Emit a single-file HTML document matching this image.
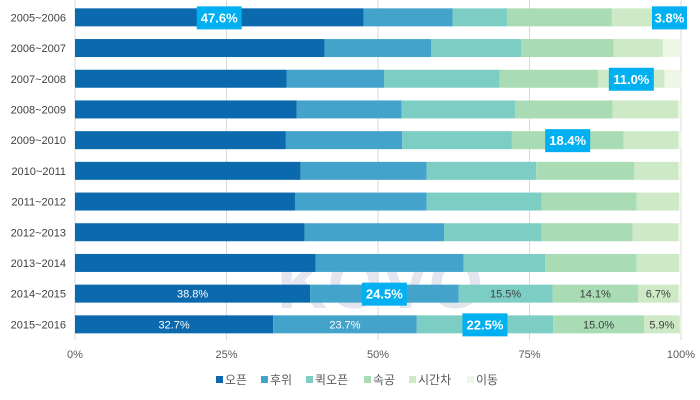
<!DOCTYPE html>
<html><head><meta charset="utf-8">
<style>
body{margin:0;background:#fff;}
#wrap{position:relative;width:700px;height:400px;overflow:hidden;font-family:"Liberation Sans","Noto Sans CJK KR",sans-serif;}
svg text{font-family:"Liberation Sans","Noto Sans CJK KR",sans-serif;}
</style></head>
<body>
<div id="wrap">
<svg id="chart" width="700" height="400" xmlns="http://www.w3.org/2000/svg">
<text x="380" y="308" font-size="70" font-weight="bold" fill="#8890b8" opacity="0.22" text-anchor="middle">KOVO</text>
<g id="grid"></g><g id="bars"></g><g id="labels"></g><g id="legend"></g>
</svg>
</div>
<script>
const categories=["2005~2006","2006~2007","2007~2008","2008~2009","2009~2010","2010~2011","2011~2012","2012~2013","2013~2014","2014~2015","2015~2016"];
const seriesNames=["오픈","후위","퀵오픈","속공","시간차","이동"];
const openVals=[47.6,41.2,34.9,36.6,34.8,37.2,36.3,37.9,39.7,38.8,32.7];
const backVals=[14.7,17.6,16.1,17.3,19.2,20.8,21.7,23.0,24.4,24.5,23.7];
const quickVals=[9.0,14.8,19.1,18.7,18.1,18.1,19.0,16.1,13.5,15.5,22.5];
const fastVals=[17.3,15.3,16.2,16.1,18.4,16.2,15.7,15.0,15.1,14.1,15.0];
const timeDiffVals=[7.6,8.1,11.0,10.8,9.1,7.3,7.0,7.6,7.0,6.7,5.9];
const moveVals=[3.8,3.0,2.9,0.5,0.5,0.4,0.3,0.4,0.3,0.4,0.2];
const ticks=[0,25,50,75,100];
const tickLabels=["0%","25%","50%","75%","100%"];
const callouts=[[0,0],[5,0],[4,2],[3,4],[1,9],[2,10]];
const plainRows=[9,10];

const series=[openVals,backVals,quickVals,fastVals,timeDiffVals,moveVals];
const colors=["#0b69ad","#44a3cb","#7ccdc4","#a9dcb5","#cde9c6","#eef7e6"];
const NS="http://www.w3.org/2000/svg";
const x0=75,x1=681,topY=2,rowH=30.7,barH=18;
const xs=v=>x0+(x1-x0)*v/100;
const yc=i=>topY+rowH*(i+0.5);
function mk(t,a,p){const e=document.createElementNS(NS,t);for(const k in a)e.setAttribute(k,a[k]);p.appendChild(e);return e;}
const G=document.getElementById('grid'),B=document.getElementById('bars'),L=document.getElementById('labels'),LG=document.getElementById('legend');
ticks.forEach((t,i)=>{
  const g=mk('line',{x1:xs(t),x2:xs(t),y1:0,y2:340,stroke:'#d9d9d9','stroke-width':1},G);
  
  
  const tx=mk('text',{x:xs(t),y:358,'font-size':11,fill:'#595959','text-anchor':'middle'},G);
  tx.textContent=tickLabels[i];
  
  
});
categories.forEach((c,i)=>{
  const tx=mk('text',{x:66,y:yc(i)+4,'font-size':11,fill:'#404040','text-anchor':'end'},L);
  tx.textContent=c;
  
  
  let cum=0;
  series.forEach((s,k)=>{
    const v=s[i];
    const r=mk('rect',{x:xs(cum),y:yc(i)-barH/2,width:xs(cum+v)-xs(cum),height:barH,fill:colors[k]},B);
    
    
    if(plainRows.includes(i)&&k<5&&!callouts.some(cc=>cc[0]===k&&cc[1]===i)){
      const t=mk('text',{x:(xs(cum)+xs(cum+v))/2,y:yc(i)+4,'font-size':11,fill:k<2?'#fff':'#404040','text-anchor':'middle'},L);
      t.textContent=v.toFixed(1)+'%';
      
      
    }
    cum+=v;
  });
});
callouts.forEach(([k,i])=>{
  let cum=0;for(let j=0;j<k;j++)cum+=series[j][i];
  const v=series[k][i];
  let cx=(xs(cum)+xs(cum+v))/2;
  const w=v<10?35:45;
  if(cx+w/2>x1+11)cx=x1+11-w/2;
  const r=mk('rect',{x:cx-w/2,y:yc(i)-11,width:w,height:23,fill:'#00b0f0'},L);
  
  
  const t=mk('text',{x:cx,y:yc(i)+5,'font-size':13,'font-weight':'bold',fill:'#fff','text-anchor':'middle'},L);
  t.textContent=v.toFixed(1)+'%';
  
  
});
let lx=216;
seriesNames.forEach((n,k)=>{
  const r=mk('rect',{x:lx,y:376,width:7,height:7,fill:colors[k]},LG);
  
  
  const t=mk('text',{x:lx+9,y:384,'font-size':12,fill:'#595959'},LG);
  t.textContent=n;
  
  
  lx+=9+n.length*13+10;
});
</script>
</body></html>
